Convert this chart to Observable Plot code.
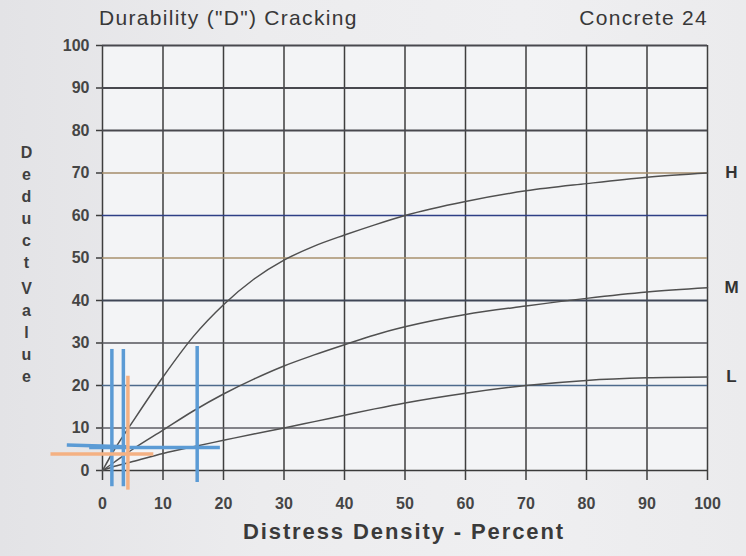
<!DOCTYPE html>
<html>
<head>
<meta charset="utf-8">
<script src="https://cdn.jsdelivr.net/npm/d3@7"></script>
<script src="https://cdn.jsdelivr.net/npm/@observablehq/plot@0.6"></script>
<style>
  html, body { margin: 0; padding: 0; }
  body {
    width: 746px; height: 556px; overflow: hidden; position: relative;
    background: linear-gradient(90deg, #e3e3e6 0%, #ececee 35%, #efeff1 70%, #ebebed 100%);
    font-family: "Liberation Sans", Arial, sans-serif; color: #3a3a3a;
  }
  #chart { position: absolute; left: 0; top: 0; }
  .title { position: absolute; top: 6px; font-size: 21px; letter-spacing: 1.3px; color: #383838; white-space: nowrap; }
  #title-left { left: 99px; }
  #title-right { right: 38px; }
  .ylab {
    position: absolute; left: 17px; writing-mode: vertical-rl; text-orientation: upright;
    font-weight: bold; font-size: 16px; letter-spacing: 5px; color: #404040;
  }
  #xlab { position: absolute; left: 0; width: 808px; text-align: center; top: 519px;
    font-weight: bold; font-size: 22px; letter-spacing: 1.9px; color: #3a3a3a; }
</style>
</head>
<body>
<div id="title-left" class="title"></div>
<div id="title-right" class="title"></div>
<div id="ylab1" class="ylab" style="top:144px"></div>
<div id="ylab2" class="ylab" style="top:280px"></div>
<div id="xlab"></div>
<div id="chart"></div>
<script>
// ---------- data ----------
const titleText = 'Durability ("D") Cracking';
const subtitleText = "Concrete 24";
const xLabelText = "Distress Density - Percent";
const yLabelWords = ["Deduct", "Value"];

const xTickValues = [0, 10, 20, 30, 40, 50, 60, 70, 80, 90, 100];
const yTickValues = [0, 10, 20, 30, 40, 50, 60, 70, 80, 90, 100];

const severityNames = ["H", "M", "L"];
const densityPct   = [0, 2, 5, 10, 15, 20, 25, 30, 35, 40, 45, 50, 60, 70, 80, 90, 100];
const highDeduct   = [0, 5, 11.5, 22, 31.5, 39, 45, 49.5, 52.8, 55.4, 57.8, 60, 63.3, 65.8, 67.5, 69, 70];
const mediumDeduct = [0, 2, 5, 9.5, 14, 18, 21.5, 24.6, 27.2, 29.6, 31.9, 33.8, 36.7, 38.7, 40.5, 42, 43];
const lowDeduct    = [0, 1, 2.1, 4, 5.6, 7.1, 8.6, 10, 11.5, 13, 14.5, 15.9, 18.2, 20, 21.2, 21.8, 22];

// hand-drawn reading lines (data units)
const blueReadLines = [
  {x1: 1.55, y1: -3.7, x2: 1.55, y2: 28.6},
  {x1: 3.45, y1: -3.7, x2: 3.45, y2: 28.6},
  {x1: 15.65, y1: -2.7, x2: 15.65, y2: 29.3},
  {x1: -5.9, y1: 6.0, x2: 4.0, y2: 5.6},
  {x1: -2.2, y1: 5.4, x2: 19.4, y2: 5.4}
];
const orangeReadLines = [
  {x1: 4.2, y1: -4.5, x2: 4.2, y2: 22.3},
  {x1: -8.6, y1: 3.9, x2: 8.4, y2: 3.9}
];

// ---------- build ----------
document.getElementById("title-left").textContent = titleText;
document.getElementById("title-right").textContent = subtitleText;
document.getElementById("ylab1").textContent = yLabelWords[0];
document.getElementById("ylab2").textContent = yLabelWords[1];
document.getElementById("xlab").textContent = xLabelText;

const seriesValues = [highDeduct, mediumDeduct, lowDeduct];
const rows = [];
severityNames.forEach((s, i) => densityPct.forEach((x, j) => rows.push({severity: s, x, y: seriesValues[i][j]})));
const endLabels = severityNames.map((s, i) => ({severity: s, x: densityPct[densityPct.length - 1], y: seriesValues[i][seriesValues[i].length - 1]}));

const gridStroke = {0: "#3a3a3a", 10: "#5e5e64", 20: "#4d6a8c", 30: "#55555b", 40: "#3f4656",
  50: "#a8926e", 60: "#2e3f86", 70: "#a48d6a", 80: "#48484e", 90: "#48484e", 100: "#48484e"};
const gridWidth = {0: 1.6, 10: 1.3, 20: 1.5, 30: 1.4, 40: 2.2, 50: 1.7, 60: 1.6, 70: 1.7, 80: 2, 90: 2, 100: 1.8};

const chart = Plot.plot({
  width: 746,
  height: 556,
  marginLeft: 102,
  marginRight: 39,
  marginTop: 45,
  marginBottom: 86,
  style: {background: "transparent", fontFamily: "'Liberation Sans', Arial, sans-serif", fontWeight: "bold", fontSize: "16px", color: "#454545"},
  x: {domain: [0, 100]},
  y: {domain: [0, 100]},
  color: {type: "identity"},
  marks: [
    Plot.frame({fill: "#f3f4f6", stroke: null}),
    Plot.ruleX(xTickValues, {x: d => d, stroke: "#3e3e3e", strokeWidth: 1.5}),
    Plot.ruleY(yTickValues, {y: d => d, stroke: d => gridStroke[d], strokeWidth: d => gridWidth[d]}),
    Plot.axisX({ticks: xTickValues, tickSize: 10, tickPadding: 17, label: null, stroke: "#3e3e3e", strokeWidth: 1.5, fontSize: 16, fontWeight: "bold"}),
    Plot.axisY({ticks: yTickValues, tickSize: 6, tickPadding: 7, label: null, stroke: "#3e3e3e", strokeWidth: 1.5, fontSize: 16, fontWeight: "bold"}),
    Plot.line(rows, {x: "x", y: "y", z: "severity", stroke: "#505050", strokeWidth: 1.5, curve: "monotone-x"}),
    Plot.text(endLabels, {x: "x", y: "y", text: "severity", dx: 24, fontSize: 17, fontWeight: "bold", fill: "#333"}),
    Plot.link(blueReadLines, {x1: "x1", y1: "y1", x2: "x2", y2: "y2", stroke: "#5b9bd5", strokeWidth: 3.5, strokeLinecap: "butt"}),
    Plot.link(orangeReadLines, {x1: "x1", y1: "y1", x2: "x2", y2: "y2", stroke: "#f4b183", strokeWidth: 3.5, strokeLinecap: "butt"})
  ]
});
document.getElementById("chart").appendChild(chart);
</script>
</body>
</html>
